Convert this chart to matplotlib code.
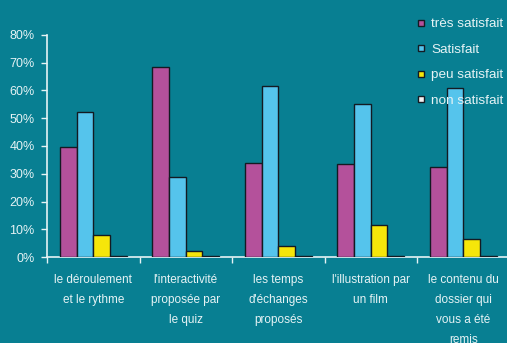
import matplotlib
matplotlib.use("Agg")
import matplotlib.pyplot as plt
import numpy as np
from matplotlib.lines import Line2D

categories = ["le déroulement\net le rythme", "l'interactivité\nproposée par\nle quiz",
              "les temps\nd'échanges\nproposés", "l'illustration par\nun film",
              "le contenu du\ndossier qui\nvous a été\nremis"]
series_names = ["très satisfait", "Satisfait", "peu satisfait", "non satisfait"]
tres = [39.8, 68.4, 34.0, 33.5, 32.3]
satisfait = [52.1, 28.9, 61.7, 55.0, 60.8]
peu = [7.9, 2.3, 4.1, 11.5, 6.4]
non = [0.3, 0.4, 0.3, 0.4, 0.5]
yticks = [0, 10, 20, 30, 40, 50, 60, 70, 80]

colors = ["#b4519b", "#55c4ec", "#f6e60a", "#f2f2f2"]
bg = "#087f92"
fg = "#e6f3f5"

plt.rcParams['font.family'] = ['Liberation Sans', 'DejaVu Sans']

fig = plt.figure(figsize=(5.07, 3.43), dpi=100, facecolor=bg)
ax = fig.add_axes([47/507, (343-257)/343, (509.5-47)/507, (257-35)/343])
ax.set_facecolor(bg)

data = [tres, satisfait, peu, non]
n = len(categories)
x = np.arange(n)
w = 0.18
offs = [-1.5*w, -0.5*w, 0.5*w, 1.5*w]
for vals, c, o, name in zip(data, colors, offs, series_names):
    ax.bar(x + o, vals, width=w, color=c, edgecolor="#141a22", linewidth=1.0, label=name, zorder=3)

ax.set_xlim(-0.5, n - 0.5)
ax.set_ylim(0, 80)
ax.set_yticks(yticks)
ax.set_yticklabels([f"{v}%" for v in yticks], color=fg, fontsize=9)
ax.set_xticks(x)
ax.set_xticklabels(categories, color=fg, fontsize=8.5, linespacing=1.9, va="top")
ax.set_xticks(np.arange(n + 1) - 0.5, minor=True)
ax.tick_params(axis="x", which="major", length=0, pad=12)
ax.tick_params(axis="x", which="minor", length=4, color=fg, width=1)
ax.tick_params(axis="y", length=4, color=fg, width=1, pad=5)
for s in ["top", "right"]:
    ax.spines[s].set_visible(False)
for s in ["left", "bottom"]:
    ax.spines[s].set_color(fg)
    ax.spines[s].set_linewidth(1.2)

handles = [Line2D([], [], marker="s", linestyle="", markersize=5, markerfacecolor=c,
                  markeredgecolor="#141a22", markeredgewidth=1.0) for c in colors]
leg = fig.legend(handles, series_names, loc="upper left", bbox_to_anchor=(416/507, 1 - 18/343),
                 frameon=False, fontsize=9.7, labelspacing=0.97, handlelength=0.8,
                 handletextpad=0.35, borderaxespad=0, borderpad=0)
for t in leg.get_texts():
    t.set_color(fg)

fig.savefig("out.png", dpi=100, facecolor=bg)
